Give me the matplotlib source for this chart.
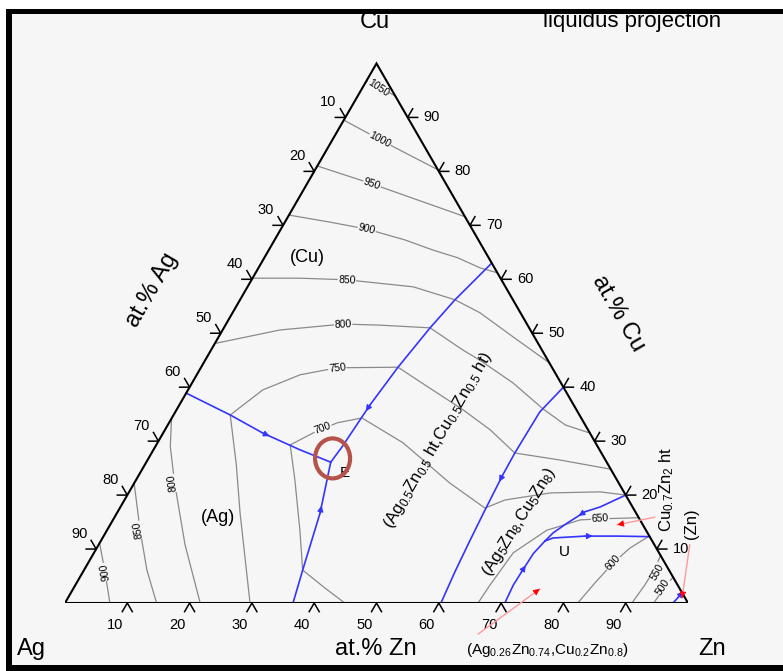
import numpy as np
import matplotlib
matplotlib.use("Agg")
import matplotlib.pyplot as plt
from matplotlib.patches import Rectangle, Ellipse

plt.rcParams['font.family'] = ['Liberation Sans', 'DejaVu Sans']
plt.rcParams['mathtext.fontset'] = 'custom'
plt.rcParams['mathtext.rm'] = 'Liberation Sans'
plt.rcParams['mathtext.it'] = 'Liberation Sans'
plt.rcParams['mathtext.sf'] = 'Liberation Sans'

W, H = 783, 671
BG = '#f6f6f6'
BLUE = '#3434ff'
GRAY = '#8a8a8a'

# all compositions are (at.% Zn, at.% Cu)

# univariant valleys (blue)
val_ag_e = [(0.0, 38.9), (9.1, 34.85), (16.0, 31.5), (23.5, 28.4), (29.6, 26.1)]
val_base_e = [(36.6, 0.0), (35.1, 6.1), (32.6, 16.7), (29.6, 26.1)]
val_cu_e = [(37.0, 63.0), (34.5, 56.2), (33.1, 51.0), (31.6, 43.7), (30.6, 36.7), (30.0, 28.9), (29.6, 26.1)]
val_beta_gamma = [(60.0, 40.0), (58.5, 35.4), (58.3, 27.8), (58.4, 23.7), (58.8, 17.2), (59.2, 11.7), (59.7, 5.75), (60.35, 0.0)]
val_edge_u = [(80.0, 20.0), (77.0, 17.8), (75.0, 16.9), (73.2, 14.8), (71.85, 13.0), (71.3, 11.5)]
val_base_u = [(70.6, 0.0), (70.3, 3.3), (70.4, 5.8), (70.6, 9.2), (71.3, 11.5)]
val_u_edge = [(71.3, 11.5), (72.3, 12.05), (77.3, 12.4), (82.4, 12.4), (87.7, 12.3)]
val_zn = [(97.6, 0.0), (98.0, 1.4)]

valleys = [val_ag_e, val_base_e, val_cu_e, val_beta_gamma, val_edge_u, val_base_u, val_u_edge, val_zn]
# where the flow arrows sit: (valley index, segment, fraction along it)
flow_arrows = [(0, 2, 0.0), (1, 2, 0.0), (2, 4, 0.0), (3, 3, 0.0), (4, 2, 0.0), (5, 2, 0.0), (6, 2, 0.0), (7, 0, 0.8)]

# liquidus isotherms (gray)
iso_1050 = [(0.0, 96.8), (6.0, 94.0)]
iso_1000 = [(0.0, 89.5), (9.7, 84.9), (19.7, 80.3)]
iso_950 = [(0.0, 81.0), (10.4, 77.7), (28.4, 71.6)]
iso_900 = [(0.0, 71.9), (7.2, 70.6), (13.8, 69.3), (20.9, 67.3), (26.4, 65.4), (31.0, 64.0), (35.6, 62.1), (38.8, 61.2)]
iso_850 = [(0.0, 60.2), (7.6, 60.2), (15.3, 59.9), (26.6, 58.6), (34.5, 56.2), (39.7, 53.8), (47.3, 49.3), (55.5, 44.5)]
iso_800 = [(0.0, 48.1), (9.2, 50.6), (18.8, 51.7), (24.8, 51.5), (33.1, 51.0), (40.4, 46.9), (44.1, 45.0),
           (51.5, 40.8), (58.7, 36.0), (63.8, 33.0), (68.5, 31.5)]
iso_750 = [(9.1, 34.85), (12.0, 39.5), (16.6, 42.3), (21.9, 43.6), (31.6, 43.7), (36.5, 41.0), (46.0, 35.8),
           (52.2, 32.1), (58.3, 27.8), (66.2, 26.5), (75.2, 24.8)]
iso_700 = [(21.5, 29.3), (24.05, 31.5), (27.0, 33.4), (30.5, 34.3), (39.4, 29.7), (50.7, 22.2), (58.6, 17.6),
           (61.1, 19.1), (67.7, 20.4), (75.6, 20.6), (80.0, 20.0)]
iso_650 = [(66.3, 0.0), (66.55, 3.3), (67.3, 9.3), (70.6, 13.5), (72.5, 14.3), (75.0, 15.4), (78.1, 15.6), (84.2, 15.8)]
iso_600 = [(82.3, 0.0), (83.2, 3.7), (84.25, 7.4), (85.6, 10.2), (87.5, 12.3)]
iso_550 = [(91.0, 0.0), (91.4, 3.3), (91.5, 6.1), (91.2, 8.8)]
iso_500 = [(94.5, 0.0), (94.8, 2.8), (95.2, 4.8)]
iso_900_ag = [(0.0, 11.1), (3.55, 5.75), (7.2, 0.0)]
iso_850_ag = [(0.0, 22.2), (5.3, 13.5), (10.1, 6.1), (14.7, 0.0)]
iso_800_ag = [(0.0, 34.2), (2.4, 29.0), (6.5, 22.2), (13.9, 10.75), (21.7, 0.0)]
iso_750_ag = [(9.1, 34.85), (14.7, 25.6), (19.75, 16.7), (29.7, 0.0)]
iso_700_ag = [(21.5, 29.3), (25.5, 22.8), (30.95, 13.5), (35.1, 6.1), (40.3, 2.8), (44.9, 0.0)]

isotherms = [iso_1050, iso_1000, iso_950, iso_900, iso_850, iso_800, iso_750, iso_700, iso_650,
             iso_600, iso_550, iso_500, iso_900_ag, iso_850_ag, iso_800_ag, iso_750_ag, iso_700_ag]

# isotherm labels: text, Zn, Cu, rotation
iso_labels = [
    ('1050', 2.5, 95.5, -34), ('1000', 7.65, 85.8, -28), ('950', 10.45, 77.7, -19),
    ('900', 13.8, 69.3, -13), ('850', 15.3, 59.9, -2), ('800', 18.8, 51.7, 3),
    ('750', 21.9, 43.6, 6), ('700', 25.2, 32.4, 20), ('650', 78.1, 15.6, 3),
    ('600', 84.25, 7.4, 48), ('550', 92.15, 5.75, 60), ('500', 94.5, 2.97, 57),
    ('800', 6.2, 22.2, 98), ('850', 4.95, 13.5, 100), ('900', 3.55, 5.75, 100),
]

ticks = [10, 20, 30, 40, 50, 60, 70, 80, 90]

# phase regions: text, Zn, Cu, rotation, size
phase_labels = [
    ('(Cu)', 6.8, 64.1, 0, 13),
    ('(Ag)', 16.7, 15.8, 0, 13),
    (r'(Ag$_{0.5}$Zn$_{0.5}$ ht,Cu$_{0.5}$Zn$_{0.5}$ ht)', 44.8, 30.2, 60, 12),
    (r'(Ag$_{5}$Zn$_{8}$,Cu$_{5}$Zn$_{8}$)', 65.4, 15.0, 58, 12),
    ('U', 75.5, 9.4, 0, 11),
    ('E', 32.8, 24.1, 0, 11),
]

E_circle = (29.55, 26.8)

# red leader arrows: (tail Zn, tail Cu) -> (head Zn, head Cu)
leaders = [((69.2, -5.75), (74.9, 2.6)), ((86.7, 15.9), (81.4, 14.5)), ((94.9, 10.75), (98.6, 0.9))]


def tern(pts):
    a = np.asarray(pts, float) / 100.0
    zn, cu = a[:, 0], a[:, 1]
    return zn + cu / 2, cu * np.sqrt(3) / 2


def fpx(x, y):
    return x / W, 1 - y / H


fig = plt.figure(figsize=(W / 100, H / 100), dpi=100)
fig.patch.set_facecolor('white')
fig.add_artist(Rectangle(fpx(12, 665), (W - 12) / W, (665 - 14) / H, transform=fig.transFigure,
                         fc=BG, ec='none', zorder=0))
for x0, y0, x1, y1 in [(6, 9, 12, 671), (6, 9, W, 14), (6, 665, W, 671)]:
    fig.add_artist(Rectangle(fpx(x0, y1), (x1 - x0) / W, (y1 - y0) / H, transform=fig.transFigure,
                             fc='black', ec='none', zorder=1))

ax = fig.add_axes([65 / W, (H - 603) / H, 623 / W, 623 / H])
ax.set_xlim(0, 1)
ax.set_ylim(0, 1)
ax.axis('off')
ax.patch.set_alpha(0)

# isotherms
for c in isotherms:
    x, y = tern(c)
    ax.plot(x, y, color=GRAY, lw=0.9, zorder=2)

for txt, zn, cu, rot in iso_labels:
    x, y = tern([(zn, cu)])
    ax.text(x[0], y[0], txt, fontsize=7.5, rotation=rot, ha='center', va='center', rotation_mode='anchor',
            bbox=dict(boxstyle='square,pad=0.05', fc=BG, ec='none'), zorder=3)

# valleys with flow arrows
for c in valleys:
    x, y = tern(c)
    ax.plot(x, y, color=BLUE, lw=1.2, zorder=4)

for vi, seg, f in flow_arrows:
    x, y = tern(valleys[vi])
    p = np.array([x[seg] + f * (x[seg + 1] - x[seg]), y[seg] + f * (y[seg + 1] - y[seg])])
    d = np.array([x[seg + 1] - x[seg], y[seg + 1] - y[seg]])
    d = d / np.hypot(*d)
    ax.annotate('', xy=p + 0.012 * d, xytext=p - 0.002 * d,
                arrowprops=dict(arrowstyle='-|>', color=BLUE, lw=0.8, mutation_scale=9,
                                shrinkA=0, shrinkB=0), zorder=5)

# triangle frame
x, y = tern([(0, 0), (100, 0), (0, 100), (0, 0)])
ax.plot(x, y, color='black', lw=1.5, zorder=6, solid_joinstyle='miter')

L = 10 / 623
s3 = np.sqrt(3) / 2
for t in ticks:
    # bottom: at.% Zn
    x, y = tern([(t, 0)])
    ax.plot([x[0] - 0.5 * L, x[0], x[0] + 0.5 * L], [y[0] - s3 * L, y[0], y[0] - s3 * L], color='black', lw=1.1,
            clip_on=False)
    ax.annotate(str(t), (x[0], y[0]), xytext=(-12, -22), textcoords='offset pixels', ha='center', va='center',
                fontsize=10.5)
    # left: at.% Ag
    x, y = tern([(0, 100 - t)])
    ax.plot([x[0] - L, x[0], x[0] - 0.5 * L], [y[0], y[0], y[0] + s3 * L], color='black', lw=1.1, clip_on=False)
    ax.annotate(str(t), (x[0], y[0]), xytext=(-17, 15), textcoords='offset pixels', ha='center', va='center',
                fontsize=10.5)
    # right: at.% Cu
    x, y = tern([(100 - t, t)])
    ax.plot([x[0] + L, x[0], x[0] + 0.5 * L], [y[0], y[0], y[0] + s3 * L], color='black', lw=1.1, clip_on=False)
    ax.annotate(str(t), (x[0], y[0]), xytext=(24, 0), textcoords='offset pixels', ha='center', va='center',
                fontsize=10.5)

for txt, zn, cu, rot, fs in phase_labels:
    x, y = tern([(zn, cu)])
    ax.text(x[0], y[0], txt, fontsize=fs, rotation=rot, ha='center', va='center', rotation_mode='anchor', zorder=7)

# red circle around E
x, y = tern([E_circle])
ax.add_patch(Ellipse((x[0], y[0]), 35 / 623, 40 / 623, fill=False, ec='#b5524a', lw=3, zorder=8))

# red leaders
for tail, head in leaders:
    tx, ty = tern([tail])
    hx, hy = tern([head])
    ax.plot([tx[0], hx[0]], [ty[0], hy[0]], color='#ff9a9a', lw=1.0, clip_on=False, zorder=8)
    d = np.array([hx[0] - tx[0], hy[0] - ty[0]])
    d = d / np.hypot(*d)
    ax.annotate('', xy=(hx[0], hy[0]), xytext=(hx[0] - 0.01 * d[0], hy[0] - 0.01 * d[1]),
                arrowprops=dict(arrowstyle='-|>', color='red', lw=0.5, mutation_scale=10, shrinkA=0, shrinkB=0),
                annotation_clip=False, zorder=9)

# texts around the triangle
fig.text(*fpx(375, 22), 'Cu', fontsize=17, ha='center', va='center')
fig.text(*fpx(632, 22), 'liquidus projection', fontsize=16, ha='center', va='center')
fig.text(*fpx(31, 649), 'Ag', fontsize=17, ha='center', va='center')
fig.text(*fpx(712, 649), 'Zn', fontsize=17, ha='center', va='center')
fig.text(*fpx(376, 649), 'at.% Zn', fontsize=17, ha='center', va='center')
fig.text(*fpx(152, 290), 'at.% Ag', fontsize=17, ha='center', va='center', rotation=60, rotation_mode='anchor')
fig.text(*fpx(618, 313), 'at.% Cu', fontsize=17, ha='center', va='center', rotation=-60, rotation_mode='anchor')
fig.text(*fpx(547, 650), r'(Ag$_{0.26}$Zn$_{0.74}$,Cu$_{0.2}$Zn$_{0.8}$)', fontsize=11, ha='center', va='center')
fig.text(*fpx(667, 490), r'Cu$_{0.7}$Zn$_{2}$ ht', fontsize=12, ha='center', va='center', rotation=90,
         rotation_mode='anchor')
fig.text(*fpx(691, 524), '(Zn)', fontsize=12, ha='center', va='center', rotation=90, rotation_mode='anchor')

fig.savefig('out.png', dpi=100, facecolor=fig.get_facecolor())
